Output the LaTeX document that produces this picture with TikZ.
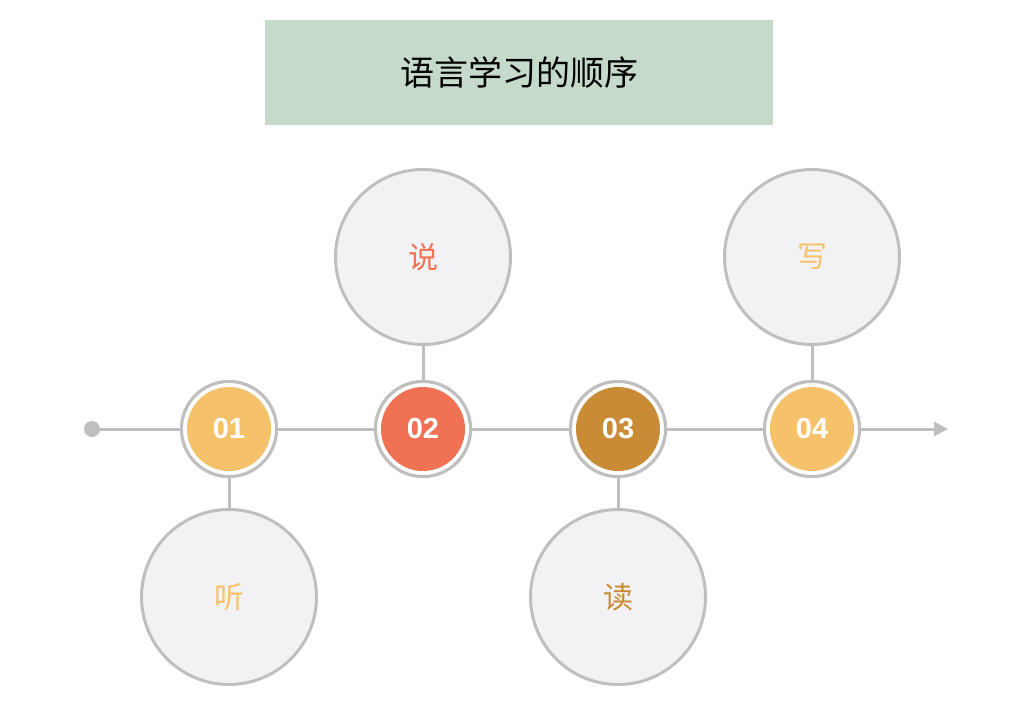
\documentclass[tikz,border=0pt]{standalone}
\usepackage{fontspec}
\setmainfont{Liberation Sans}
\newfontfamily\cjk{Noto Sans CJK SC}
\usetikzlibrary{arrows.meta}
\definecolor{ringgray}{HTML}{BFBFBF}
\definecolor{titlegreen}{HTML}{C5DACB}
\definecolor{cyellow}{HTML}{F5C26B}
\definecolor{cred}{HTML}{F07153}
\definecolor{cbrown}{HTML}{C98B36}
\definecolor{bigfill}{HTML}{F2F2F4}
\begin{document}
\begin{tikzpicture}[x=1pt,y=-1pt,
  line/.style={draw=ringgray,line width=3pt},
  smallc/.style={circle,draw=ringgray,line width=3pt,fill=white,minimum size=95pt,inner sep=0pt},
  numc/.style={circle,minimum size=84pt,inner sep=0pt,text=white,font=\bfseries\fontsize{29}{30}\selectfont},
  bigc/.style={circle,draw=ringgray,line width=3pt,fill=bigfill,minimum size=175pt,inner sep=0pt,font=\cjk\fontsize{30}{32}\selectfont}]
\useasboundingbox (0,0) rectangle (1026,705);
\fill[white] (0,0) rectangle (1026,705);
\node[fill=titlegreen,minimum width=508pt,minimum height=105pt,inner sep=0pt,font=\cjk\fontsize{34}{36}\selectfont] (title) at (519,72.5) {语言学习的顺序};
\coordinate (start) at (92,429);
\coordinate (end) at (948,429);
\fill[ringgray] (start) circle (8pt);
\draw[line,-{Triangle[length=14pt,width=14pt]}] (start) -- (end);
\foreach \n/\x/\c in {1/229/cyellow,2/423/cred,3/618/cbrown,4/812/cyellow}{
  \node[smallc] (s\n) at (\x,429) {};
}
\node[bigc,text=cyellow] (b1) at (229,597) {听};
\node[bigc,text=cred] (b2) at (423,257) {说};
\node[bigc,text=cbrown] (b3) at (618,597) {读};
\node[bigc,text=cyellow] (b4) at (812,257) {写};
\foreach \n in {1,2,3,4}{\draw[line] (s\n) -- (b\n);}
\foreach \n/\c/\t in {1/cyellow/01,2/cred/02,3/cbrown/03,4/cyellow/04}{
  \node[smallc] (t\n) at (s\n) {};
  \node[numc,fill=\c] (n\n) at (s\n) {\t};
}
\end{tikzpicture}
\end{document}
